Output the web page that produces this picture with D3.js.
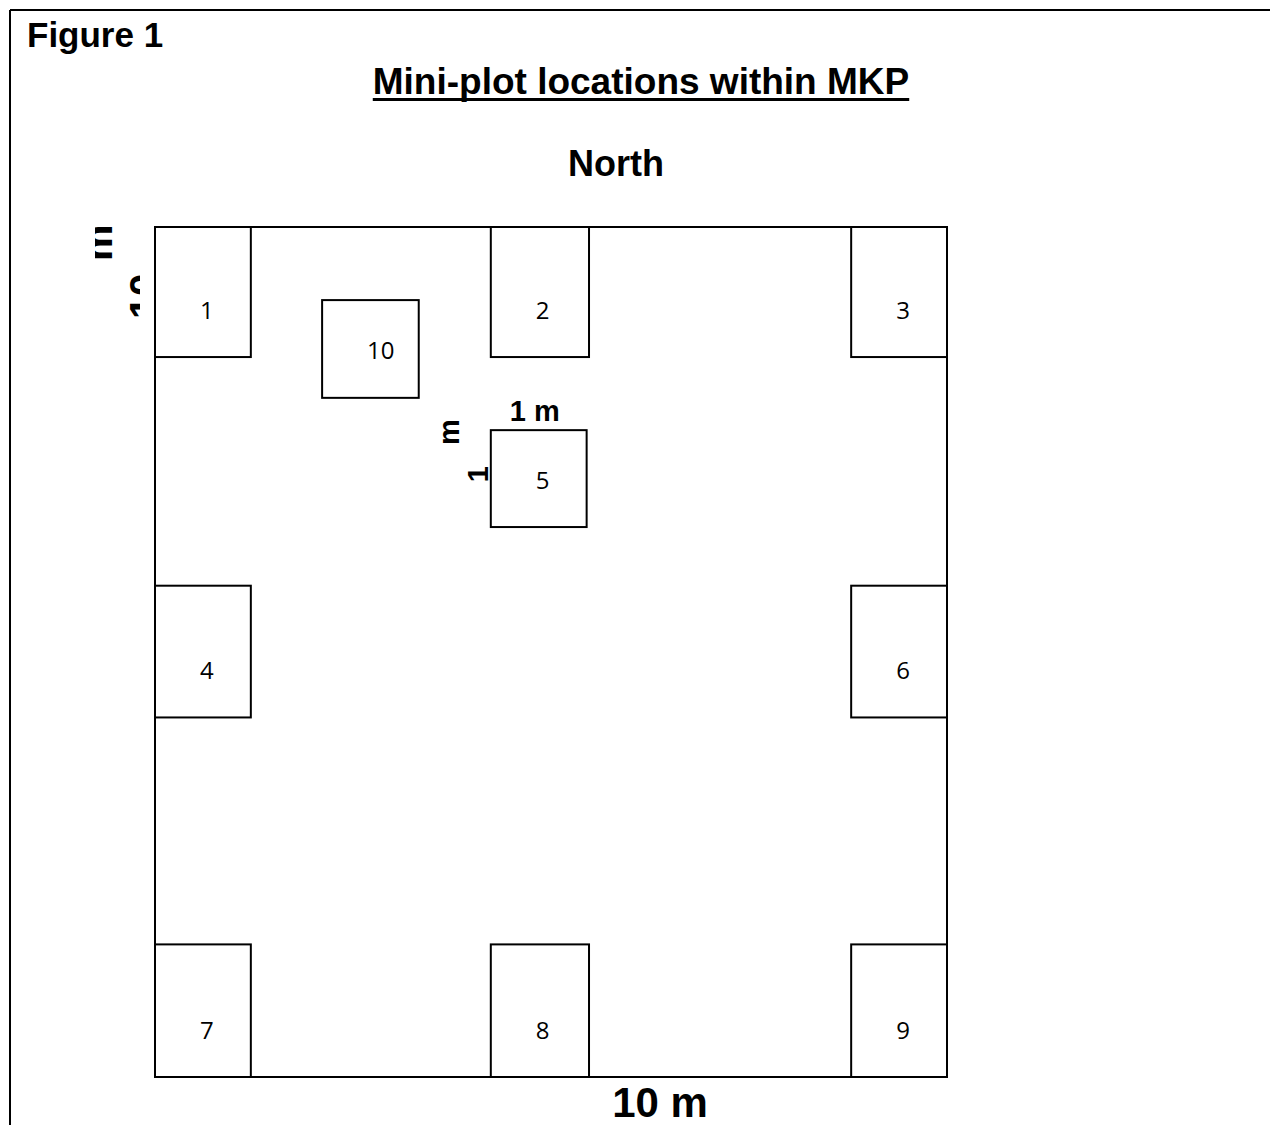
<!DOCTYPE html>
<html>
<head>
<meta charset="utf-8">
<script src="https://cdn.jsdelivr.net/npm/d3@7"></script>
<style>
  html, body { margin: 0; padding: 0; background: #fff; }
</style>
</head>
<body>
<div id="fig"></div>
<script>
// plot size in metres (10 m x 10 m)
var plotSize = [0, 10];

// mini-plots: id, west offset (m), north offset (m), width (m), height (m)
var plotIds = [1, 2, 3, 4, 5, 6, 7, 8, 9, 10];
var plotX   = [0, 4.24, 8.79, 0, 4.24, 8.79, 0, 4.24, 8.79, 2.11];
var plotY   = [0, 0, 0, 4.22, 2.39, 4.22, 8.44, 8.44, 8.44, 0.86];
var plotW   = [1.21, 1.24, 1.21, 1.21, 1.21, 1.21, 1.21, 1.24, 1.21, 1.22];
var plotH   = [1.53, 1.53, 1.53, 1.55, 1.14, 1.55, 1.56, 1.56, 1.56, 1.15];

var figLabel = "Figure 1";
var titleText = "Mini-plot locations within MKP";
var northText = "North";
var sideLabel = "10 m";
var miniLabel = "1 m";

var w = 1270, h = 1125;
var boldFont = "'Liberation Sans', Arial, Helvetica, sans-serif";
var numFont = "'Open Sans', 'DejaVu Sans', sans-serif";

var svg = d3.select("#fig")
            .append("svg")
            .attr("width", w)
            .attr("height", h);

//Scales: metres -> pixels (north at top)
var xScale = d3.scaleLinear().domain(plotSize).range([155, 947]);
var yScale = d3.scaleLinear().domain(plotSize).range([227, 1077]);

//Figure frame (top and left rules)
svg.append("line")
   .attr("x1", 10).attr("x2", w)
   .attr("y1", 10).attr("y2", 10)
   .attr("stroke", "black").attr("stroke-width", 2);
svg.append("line")
   .attr("x1", 10).attr("x2", 10)
   .attr("y1", 10).attr("y2", h)
   .attr("stroke", "black").attr("stroke-width", 2);

//Figure label
svg.append("text")
   .attr("x", 27)
   .attr("y", 47)
   .attr("font-family", boldFont)
   .attr("font-weight", "bold")
   .attr("font-size", 35)
   .text(figLabel);

//Title with underline
var title = svg.append("text")
   .attr("x", 641)
   .attr("y", 94)
   .attr("text-anchor", "middle")
   .attr("font-family", boldFont)
   .attr("font-weight", "bold")
   .attr("font-size", 37)
   .text(titleText);
var tLen = title.node().getComputedTextLength();
svg.append("line")
   .attr("x1", 641 - tLen / 2).attr("x2", 641 + tLen / 2)
   .attr("y1", 99.5).attr("y2", 99.5)
   .attr("stroke", "black").attr("stroke-width", 3);

svg.append("text")
   .attr("x", 616)
   .attr("y", 176)
   .attr("text-anchor", "middle")
   .attr("font-family", boldFont)
   .attr("font-weight", "bold")
   .attr("font-size", 36)
   .text(northText);

//Left side label, partly hidden as in the original text box
var clip = svg.append("defs").append("clipPath").attr("id", "sideClip");
clip.append("rect").attr("x", 95).attr("y", 215).attr("width", 45).attr("height", 110);

var side = svg.append("g").attr("clip-path", "url(#sideClip)")
   .append("text")
   .attr("transform", "translate(158,319) rotate(-90)")
   .attr("font-family", boldFont)
   .attr("font-weight", "bold")
   .attr("font-size", 41);
var sideParts = sideLabel.split(" ");
side.append("tspan").attr("x", 0).attr("y", 0).text(sideParts[0]);
side.append("tspan").attr("x", 46.6).attr("y", -46).text(" " + sideParts[1]);

//Main plot outline
svg.append("rect")
   .attr("x", xScale(plotSize[0]))
   .attr("y", yScale(plotSize[0]))
   .attr("width", xScale(plotSize[1]) - xScale(plotSize[0]))
   .attr("height", yScale(plotSize[1]) - yScale(plotSize[0]))
   .attr("fill", "white")
   .attr("stroke", "black")
   .attr("stroke-width", 2);

//Mini-plots
var plots = plotIds.map(function(id, i) {
    return {id: id, x: plotX[i], y: plotY[i], w: plotW[i], h: plotH[i]};
});

var boxes = svg.append("g").attr("class", "miniplots")
   .selectAll("g")
   .data(plots)
   .enter()
   .append("g");

boxes.append("rect")
   .attr("x", function(d) {return xScale(d.x);})
   .attr("y", function(d) {return yScale(d.y);})
   .attr("width", function(d) {return xScale(d.x + d.w) - xScale(d.x);})
   .attr("height", function(d) {return yScale(d.y + d.h) - yScale(d.y);})
   .attr("fill", "white")
   .attr("stroke", "black")
   .attr("stroke-width", 2);

boxes.append("text")
   .attr("x", function(d) {return xScale(d.x) + 45;})
   .attr("y", function(d) {return yScale(d.y + d.h) - 48;})
   .attr("dominant-baseline", "central")
   .attr("font-family", numFont)
   .attr("font-size", 24)
   .text(function(d) {return d.id;});

//1 m dimension labels beside plot 5
var p5 = plots[plotIds.indexOf(5)];
svg.append("text")
   .attr("x", (xScale(p5.x) + xScale(p5.x + p5.w)) / 2 - 4)
   .attr("y", yScale(p5.y) - 9)
   .attr("text-anchor", "middle")
   .attr("font-family", boldFont)
   .attr("font-weight", "bold")
   .attr("font-size", 29)
   .text(miniLabel);

var mini = svg.append("text")
   .attr("transform", "translate(" + (xScale(p5.x) - 3) + "," + (yScale(p5.y) + 52) + ") rotate(-90)")
   .attr("font-family", boldFont)
   .attr("font-weight", "bold")
   .attr("font-size", 29);
var miniParts = miniLabel.split(" ");
mini.append("tspan").attr("x", 0).attr("y", 0).text(miniParts[0]);
mini.append("tspan").attr("x", 29).attr("y", -29).text(" " + miniParts[1]);

//Bottom side label
svg.append("text")
   .attr("x", 660)
   .attr("y", 1117)
   .attr("text-anchor", "middle")
   .attr("font-family", boldFont)
   .attr("font-weight", "bold")
   .attr("font-size", 42)
   .text(sideLabel);
</script>
</body>
</html>
